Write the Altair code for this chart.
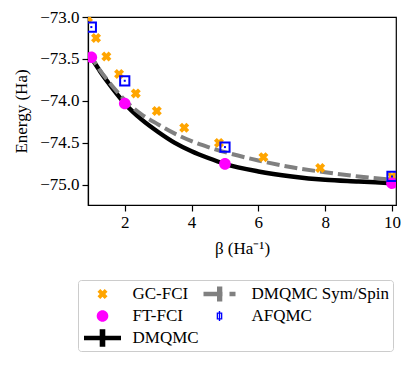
import altair as alt
import pandas as pd

# ---- data ----
gc_beta = [0.9, 1.14, 1.45, 1.83, 2.33, 2.96, 3.78, 4.82, 6.15, 7.85, 10.0]
gc_energy = [-73.01, -73.25, -73.47, -73.68, -73.91, -74.12, -74.32, -74.50, -74.67, -74.80, -74.90]

ft_beta = [1.0, 2.0, 5.0, 10.0]
ft_energy = [-73.48, -74.03, -74.75, -74.98]

af_beta = [1.0, 2.0, 5.0, 10.0]
af_energy = [-73.12, -73.76, -74.55, -74.90]
af_error = [0.012, 0.012, 0.012, 0.012]

dm_beta = [0.95, 1.0, 1.25, 1.5, 1.75, 2.0, 2.5, 3.0, 3.5, 4.0, 4.5, 5.0, 6.0, 7.0, 8.0, 9.0, 10.0]
dm_energy = [-73.44, -73.48, -73.64, -73.78, -73.91, -74.03, -74.22, -74.37, -74.50, -74.60,
             -74.68, -74.75, -74.84, -74.90, -74.94, -74.96, -74.98]
sym_energy = [-73.43, -73.47, -73.63, -73.76, -73.88, -73.99, -74.16, -74.28, -74.39, -74.48,
              -74.55, -74.61, -74.71, -74.79, -74.85, -74.90, -74.94]

legend_order = ["GC-FCI", "FT-FCI", "DMQMC", "DMQMC Sym/Spin", "AFQMC"]
legend_colors = ["#ffa500", "#ff00ff", "#000000", "#808080", "#0000ff"]

x_path = ("M-0.5,-0.22 L-0.22,-0.5 L0,-0.28 L0.22,-0.5 L0.5,-0.22 L0.28,0 L0.5,0.22 "
          "L0.22,0.5 L0,0.28 L-0.22,0.5 L-0.5,0.22 L-0.28,0 Z")
circle_path = "M0.58,0 A0.58,0.58 0 1,1 -0.58,0 A0.58,0.58 0 1,1 0.58,0 Z"
dm_path = "M-1.85,-0.22 H1.85 V0.22 H-1.85 Z M-0.28,-0.88 H0.28 V0.88 H-0.28 Z"
sym_path = ("M-1.8,-0.23 H0.1 V0.23 H-1.8 Z M-0.45,-0.75 H0.08 V0.75 H-0.45 Z "
            "M0.8,-0.23 H1.4 V0.23 H0.8 Z")
af_path = ("M-0.48,-0.36 H0.08 V0.36 H-0.48 Z M-0.35,-0.23 V0.23 H-0.05 V-0.23 Z "
           "M-0.27,-0.5 H-0.13 V0.5 H-0.27 Z")
legend_shapes = [x_path, circle_path, dm_path, sym_path, af_path]

FONT = "Liberation Serif"
FS = 17

# ---- tables ----
pts_df = pd.DataFrame({
    "beta": gc_beta + ft_beta,
    "energy": gc_energy + ft_energy,
    "series": ["GC-FCI"] * len(gc_beta) + ["FT-FCI"] * len(ft_beta),
})
af_df = pd.DataFrame({"beta": af_beta, "energy": af_energy, "err": af_error})
af_df["lo"] = af_df["energy"] - af_df["err"]
af_df["hi"] = af_df["energy"] + af_df["err"]
dm_df = pd.DataFrame({"beta": dm_beta, "energy": dm_energy})
sym_df = pd.DataFrame({"beta": dm_beta, "energy": sym_energy})

x_scale = alt.Scale(domain=[0.9, 10.12], nice=False, zero=False)
y_scale = alt.Scale(domain=[-75.24, -73.0], nice=False, zero=False)

x_enc = alt.X("beta:Q", scale=x_scale,
              axis=alt.Axis(values=[2, 4, 6, 8, 10], format="d", title="β (Ha⁻¹)"))
y_enc = alt.Y("energy:Q", scale=y_scale,
              axis=alt.Axis(values=[-73.0, -73.5, -74.0, -74.5, -75.0], format=".1f",
                            title="Energy (Ha)"))

leg = alt.Legend(
    title=None, orient="none", legendX=-10, legendY=263, direction="vertical",
    columns=2, symbolSize=400, symbolOffset=10.5, labelOffset=20, padding=4,
    rowPadding=4, columnPadding=2, strokeColor="#cccccc", cornerRadius=3,
    fillColor="white", labelFont=FONT, labelFontSize=FS, labelColor="black",
    symbolStrokeWidth=0, symbolOpacity=1, labelLimit=300,
)

line_dm = alt.Chart(dm_df).mark_line(
    color="black", strokeWidth=4.5, interpolate="monotone", clip=True
).encode(x=x_enc, y=y_enc)

line_sym = alt.Chart(sym_df).mark_line(
    color="#808080", strokeWidth=4, strokeDash=[13, 5], interpolate="monotone", clip=True
).encode(x=x_enc, y=y_enc)

pts = alt.Chart(pts_df).mark_point(filled=True, size=400, opacity=1, clip=True).encode(
    x=x_enc, y=y_enc,
    color=alt.Color("series:N", scale=alt.Scale(domain=legend_order, range=legend_colors), legend=leg),
    shape=alt.Shape("series:N", scale=alt.Scale(domain=legend_order, range=legend_shapes), legend=leg),
)

af_err = alt.Chart(af_df).mark_rule(color="#0000ff", strokeWidth=2, clip=True).encode(
    x=x_enc, y=alt.Y("lo:Q", scale=y_scale), y2="hi:Q"
)
af_pts = alt.Chart(af_df).mark_point(
    shape="square", filled=False, color="#0000ff", size=85, strokeWidth=2, opacity=1, clip=True
).encode(x=x_enc, y=y_enc)

chart = alt.layer(line_dm, line_sym, pts, af_err, af_pts).properties(
    width=308, height=188,
    autosize=alt.AutoSizeParams(type="none"),
    padding={"left": 80, "top": 9, "right": 10, "bottom": 155},
).configure_view(
    stroke="black", strokeWidth=1.2
).configure_axis(
    grid=False, domainColor="black", domainWidth=1.2, tickColor="black", tickSize=6,
    tickWidth=1.2, labelColor="black", labelFont=FONT, labelFontSize=FS, labelPadding=3,
    titleFont=FONT, titleFontSize=FS, titleFontWeight="normal", titleColor="black",
).configure_axisY(titlePadding=9).configure_axisX(titlePadding=10)

chart.save("out.html", embed_options={"renderer": "svg", "actions": False})
